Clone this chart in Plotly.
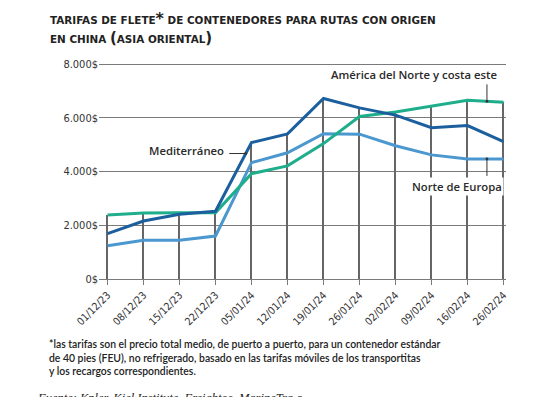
import plotly.graph_objects as go
import numpy as np

dates = ["01/12/23", "08/12/23", "15/12/23", "22/12/23", "05/01/24", "12/01/24",
         "19/01/24", "26/01/24", "02/02/24", "09/02/24", "16/02/24", "26/02/24"]
mediterraneo = [1690, 2160, 2410, 2520, 5080, 5400, 6720, 6370, 6100, 5630, 5710, 5110]
norte_europa = [1240, 1440, 1440, 1600, 4330, 4700, 5410, 5390, 4960, 4620, 4470, 4470]
america_norte = [2380, 2460, 2470, 2470, 3920, 4210, 5040, 6050, 6220, 6430, 6650, 6580]
y_ticks = [0, 2000, 4000, 6000, 8000]
y_tick_labels = ["0$", "2.000$", "4.000$", "6.000$", "8.000$"]

C_DARK = "#1c5f9e"
C_LIGHT = "#4b97cf"
C_GREEN = "#1fae8c"
GRID = "#7a7a7a"
DROP = "#666666"

idx = list(range(len(dates)))

fig = go.Figure()

# drop lines from 0 to the highest series value at each date (very thin bars)
top = [max(a, b, c) for a, b, c in zip(mediterraneo, norte_europa, america_norte)]
fig.add_trace(go.Bar(x=idx, y=top, width=0.032, marker=dict(color=DROP, line=dict(width=0)),
                     hoverinfo="skip", showlegend=False))

fig.add_trace(go.Scatter(x=idx, y=norte_europa, mode="lines", name="Norte de Europa",
                         line=dict(color=C_LIGHT, width=3), showlegend=False))
fig.add_trace(go.Scatter(x=idx, y=america_norte, mode="lines", name="América del Norte y costa este",
                         line=dict(color=C_GREEN, width=3), showlegend=False))
fig.add_trace(go.Scatter(x=idx, y=mediterraneo, mode="lines", name="Mediterráneo",
                         line=dict(color=C_DARK, width=3), showlegend=False))

LABEL_FONT = dict(family="Open Sans", size=11.3, color="#2a2a2a", weight=600)

def leader(xpos, series, ax, ay):
    yv = float(np.interp(xpos, idx, series))
    fig.add_annotation(x=xpos, y=yv, xref="x", yref="y", text=" ", showarrow=True,
                       arrowhead=6, arrowsize=0.7, arrowwidth=1, arrowcolor="#333",
                       ax=ax, ay=ay, axref="pixel", ayref="pixel", standoff=0,
                       font=dict(size=1))

# labels
fig.add_annotation(x=3.29, y=4770, xref="x", yref="y", text="Mediterráneo",
                   showarrow=False, xanchor="right", yanchor="middle", font=LABEL_FONT)
leader(3.84, mediterraneo, -18, 0)
fig.add_annotation(x=8.52, y=7630, xref="x", yref="y", text="América del Norte y costa este",
                   showarrow=False, xanchor="center", yanchor="middle", font=LABEL_FONT)
leader(10.54, america_norte, 0, -19)
fig.add_annotation(x=9.71, y=3450, xref="x", yref="y", text="Norte de Europa",
                   showarrow=False, xanchor="center", yanchor="middle", font=LABEL_FONT,
                   bgcolor="white")
leader(10.54, norte_europa, 0, 19)

# title
TITLE_FONT = dict(family="DejaVu Sans", size=10.4, color="#222", weight="bold")
fig.add_annotation(xref="paper", yref="paper", x=-0.1253, y=1.204, xanchor="left", yanchor="middle",
                   text="TARIFAS DE FLETE<span style='font-size:16px'>*</span> DE CONTENEDORES PARA RUTAS CON ORIGEN",
                   showarrow=False, font=TITLE_FONT)
fig.add_annotation(xref="paper", yref="paper", x=-0.1253, y=1.116, xanchor="left", yanchor="middle",
                   text="EN CHINA <span style='font-size:15px'>(</span>ASIA ORIENTAL<span style='font-size:15px'>)</span>",
                   showarrow=False, font=TITLE_FONT)

# footnote
fig.add_annotation(xref="paper", yref="paper", x=-0.1278, y=-0.262, xanchor="left", yanchor="top",
                   align="left", showarrow=False,
                   font=dict(family="Lato", size=10.4, color="#222", weight=600),
                   text="*las tarifas son el precio total medio, de puerto a puerto, para un contenedor estándar<br>"
                        "de 40 pies (FEU), no refrigerado, basado en las tarifas móviles de los transportitas<br>"
                        "y los recargos correspondientes.")
fig.add_annotation(xref="paper", yref="paper", x=-0.157, y=-0.51, xanchor="left", yanchor="top",
                   align="left", showarrow=False,
                   font=dict(family="Liberation Serif", size=12.5, color="#222", style="italic"),
                   text="Fuente: Kpler, Kiel Institute, Freightos, MarineTra c")

fig.update_layout(
    width=540, height=397,
    margin=dict(l=99, r=34, t=62.9, b=118.3),
    paper_bgcolor="white", plot_bgcolor="white",
    bargap=0,
    xaxis=dict(range=[-8.5 / 36, -8.5 / 36 + 407 / 36], tickvals=idx, ticktext=dates, tickangle=-45,
               ticks="outside", ticklen=5, tickcolor=GRID, tickwidth=1,
               showline=True, linecolor=GRID, linewidth=1, showgrid=False, zeroline=False,
               tickfont=dict(family="DejaVu Sans Condensed", size=10.5, color="#333")),
    yaxis=dict(range=[0, 8040], tickvals=y_ticks, ticktext=y_tick_labels,
               showgrid=True, gridcolor=GRID, gridwidth=1, zeroline=False, showline=False,
               ticks="", tickfont=dict(family="DejaVu Sans Condensed", size=11, color="#333")),
)

fig.write_html("out.html", config={"displayModeBar": False},
               post_script="document.body.style.margin='0';")
